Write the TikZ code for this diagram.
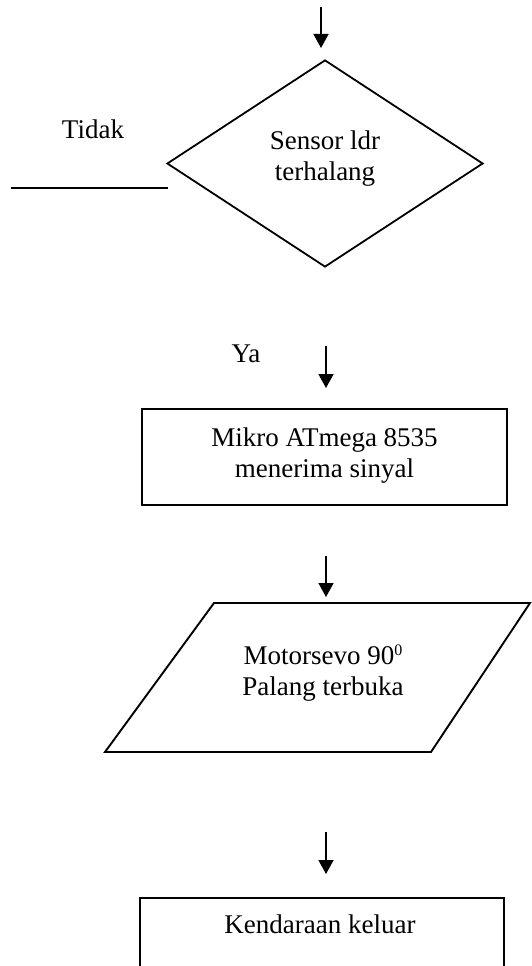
\documentclass[tikz,border=0pt]{standalone}
\usepackage{fontspec}
\setmainfont{Liberation Serif}
\usetikzlibrary{arrows.meta,shapes.geometric}
\newcommand{\degsup}[1]{\raisebox{9pt}{\fontsize{16}{16}\selectfont #1}}
\begin{document}
\begin{tikzpicture}[x=1pt,y=-1pt,
  lbl/.style={inner sep=0pt, anchor=base, align=center,
              font=\fontsize{27}{30.5}\selectfont},
  flow/.style={-{Triangle[length=14pt,width=15pt]}, line width=1.6pt},
  procbox/.style={draw, line width=2.6pt, inner sep=0pt, rectangle},
  decision/.style={draw, diamond, line width=1.8pt, inner sep=0pt, aspect=1.53},
  thin/.style={line width=1.9pt}
]
\useasboundingbox (0,0) rectangle (531,966);

% incoming arrow
\coordinate (a0s) at (321,7);
\coordinate (a0e) at (321,48);
\draw[flow] (a0s) -- (a0e);

% decision: sensor
\node[decision, minimum width=316pt, minimum height=207pt] (dec) at (325,163.5) {};
\node[lbl] (dectxt) at (325,180) {Sensor ldr\\terhalang};
\node[lbl] (tidak) at (93,138) {Tidak};
\coordinate (noL) at (11,188);
\coordinate (noR) at (168,188);
\draw[thin] (noL) -- (noR);

% "Ya" branch
\node[lbl] (ya) at (246,362) {Ya};
\coordinate (a1s) at (326,346);
\coordinate (a1e) at (326,388);
\draw[flow] (a1s) -- (a1e);

% microcontroller box
\node[procbox, minimum width=365pt, minimum height=96pt] (mikro) at (324.5,457) {};
\node[lbl] (mikrotxt) at (324.5,477) {Mikro ATmega 8535\\menerima sinyal};

\coordinate (a2s) at (326,556);
\coordinate (a2e) at (326,597);
\draw[flow] (a2s) -- (a2e);

% servo output (parallelogram)
\coordinate (pTL) at (214,603);
\coordinate (pTR) at (530,603);
\coordinate (pBR) at (431,752);
\coordinate (pBL) at (105,752);
\draw[thin, line join=miter] (pTL) -- (pTR) -- (pBR) -- (pBL) -- cycle;
\node[lbl] (servotxt) at (323,695) {Motorsevo 90\degsup{0}\\Palang terbuka};

\coordinate (a3s) at (326,832);
\coordinate (a3e) at (326,874);
\draw[flow] (a3s) -- (a3e);

% final box, continues past the lower edge
\node[procbox, minimum width=364pt, minimum height=124pt] (keluar) at (322,960) {};
\node[lbl] (keluartxt) at (320,933) {Kendaraan keluar};
\end{tikzpicture}
\end{document}
